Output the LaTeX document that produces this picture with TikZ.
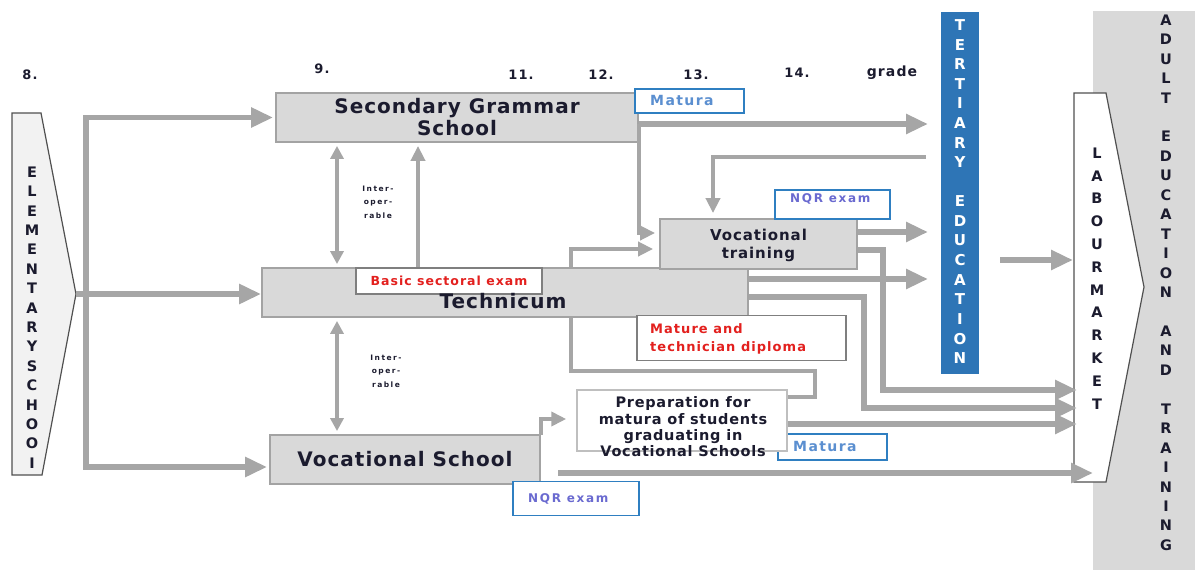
\documentclass[tikz,border=0pt]{standalone}
\usepackage{fontspec}
\setmainfont{DejaVu Sans}
\usetikzlibrary{arrows.meta}
\definecolor{arr}{HTML}{A6A6A6}
\definecolor{boxfill}{HTML}{D9D9D9}
\definecolor{boxline}{HTML}{A3A3A3}
\definecolor{tblue}{HTML}{2E75B6}
\definecolor{mblue}{HTML}{2F7FC1}
\definecolor{ltxt}{HTML}{5B8FD0}
\definecolor{qtxt}{HTML}{6A6AD0}
\definecolor{rtxt}{HTML}{E3201E}
\definecolor{adultfill}{HTML}{D9D9D9}
\definecolor{elemfill}{HTML}{F2F2F2}
\definecolor{shapeline}{HTML}{505050}
\definecolor{noteline}{HTML}{7F7F7F}
\definecolor{prepline}{HTML}{BFBFBF}
\definecolor{darktxt}{HTML}{1B1B2E}
\tikzset{
  bigarr/.style={draw=arr, line width=5.5pt, -{Triangle[length=22pt,width=19pt]}},
  midarr/.style={draw=arr, line width=4pt, -{Triangle[length=15pt,width=14pt]}},
  plainline/.style={draw=arr, line width=4pt},
  dblarr/.style={draw=arr, line width=3.5pt, {Triangle[length=13pt,width=13pt]}-{Triangle[length=13pt,width=13pt]}},
  graybox/.style={draw=boxline, fill=boxfill, line width=1.8pt, inner sep=0pt},
  bluebox/.style={draw=mblue, fill=white, line width=1.8pt, inner sep=0pt},
  notebox/.style={draw=noteline, fill=white, line width=1.5pt, inner sep=0pt},
  prepbox/.style={draw=prepline, fill=white, line width=1.5pt, inner sep=0pt},
  bigtxt/.style={font=\bfseries\fontsize{20}{22}\selectfont\addfontfeatures{LetterSpace=5}, text=darktxt, align=center},
  midtxt/.style={font=\bfseries\fontsize{15}{18}\selectfont\addfontfeatures{LetterSpace=6}, text=darktxt, align=center},
  preptxt/.style={font=\bfseries\fontsize{14.5}{16.3}\selectfont\addfontfeatures{LetterSpace=5}, text=darktxt, align=center, inner sep=0pt},
  redtxt/.style={font=\bfseries\fontsize{12.5}{18}\selectfont\addfontfeatures{LetterSpace=8}, text=rtxt, inner sep=0pt},
  bluetxt/.style={font=\bfseries\fontsize{14}{16}\selectfont\addfontfeatures{LetterSpace=10}, text=ltxt, inner sep=0pt, anchor=west},
  nqrtxt/.style={font=\bfseries\fontsize{12}{14}\selectfont\addfontfeatures{LetterSpace=14}, text=qtxt, inner sep=0pt, anchor=west},
  gradetxt/.style={font=\bfseries\fontsize{13}{15}\selectfont\addfontfeatures{LetterSpace=8}, text=darktxt, inner sep=0pt},
  tinytxt/.style={font=\bfseries\fontsize{7.5}{13.5}\selectfont\addfontfeatures{LetterSpace=20}, text=darktxt, align=center, inner sep=0pt},
  vlet/.style={font=\bfseries\fontsize{14.5}{16}\selectfont, text=darktxt, inner sep=0pt},
  wlet/.style={font=\bfseries\fontsize{15}{16}\selectfont, text=white, inner sep=0pt},
}
\begin{document}
\begin{tikzpicture}[x=1pt,y=-1pt]
\useasboundingbox (0,0) rectangle (1195,570);

% background bands
\node[fill=adultfill, minimum width=104pt, minimum height=562pt, inner sep=0pt] (adult) at (1145,292) {};
\node[fill=tblue, minimum width=38pt, minimum height=362pt, inner sep=0pt] (tert) at (960,193) {};

% elementary school shape
\draw[fill=elemfill, draw=shapeline, line width=1.2pt] (12,113) -- (41,113) -- (76,294) -- (42,475) -- (12,475) -- cycle;
% labour market shape
\draw[fill=white, draw=shapeline, line width=1.2pt] (1074,93) -- (1106,93) -- (1144,287) -- (1106,482) -- (1074,482) -- cycle;

% boxes
\node[graybox, minimum width=362pt, minimum height=49pt] (sgs) at (457,117.5) {};
\node[graybox, minimum width=486pt, minimum height=49pt] (tech) at (505,292.5) {};
\node[graybox, minimum width=270pt, minimum height=49pt] (vs) at (405,459.5) {};
\node[graybox, minimum width=197pt, minimum height=50pt] (vt) at (758.5,244) {};
\node[bluebox, minimum width=109pt, minimum height=26pt] (mat2) at (832.5,447) {};
\node[prepbox, minimum width=210pt, minimum height=61pt] (prep) at (682,420.5) {};
\node[notebox, minimum width=186pt, minimum height=26pt] (bse) at (449,281) {};
\node[notebox, minimum width=209pt, minimum height=45pt] (mtd) at (741.5,338) {};
\node[bluebox, minimum width=109pt, minimum height=24pt] (mat1) at (689.5,101) {};
\node[bluebox, minimum width=115pt, minimum height=29pt] (nqr1) at (832.5,204.5) {};
\node[bluebox, minimum width=126pt, minimum height=34pt] (nqr2) at (576,498.5) {};

% connectors from elementary school
\coordinate (elt) at (76,294);
\coordinate (vb) at (86,294);
\draw[bigarr] (elt) -- (elt -| tech.west);
\draw[bigarr, shorten >=2pt] (vb) |- (sgs.west);
\draw[bigarr, shorten >=2pt] (vb) |- ([yshift=-7.5pt]vs.west);

% inter-operable arrows
\coordinate (d1) at ([xshift=-120pt]sgs.south);
\draw[dblarr, shorten <=3pt, shorten >=3pt] (d1) -- (d1 |- tech.north);
\coordinate (u1) at ([xshift=-39pt]sgs.south);
\draw[midarr, shorten >=3pt] (u1 |- tech.north) -- (u1);
\coordinate (d2) at ([xshift=-168pt]tech.south);
\draw[dblarr, shorten <=3pt, shorten >=3pt] (d2) -- (d2 |- vs.north);

% towards tertiary education
\coordinate (tin) at (928,0);
\coordinate (s1) at ([yshift=-6.5pt]sgs.east);
\draw[bigarr] (s1) -- (s1 -| tin);
\draw[midarr, shorten >=4pt] (s1) |- ([yshift=11pt]vt.west);
\coordinate (tb) at (926,157);
\coordinate (vtn) at ([xshift=-45.5pt]vt.north);
\draw[midarr, shorten >=5pt] (tb) -| (vtn);
\coordinate (t1) at ([xshift=66pt]tech.north);
\draw[midarr, shorten >=6pt] (t1) |- ([yshift=-5pt]vt.west);
\coordinate (v1) at ([yshift=12pt]vt.east);
\draw[bigarr] (v1) -- (v1 -| tin);
\coordinate (c1) at ([yshift=13.5pt]tech.east);
\draw[bigarr] (c1) -- (c1 -| tin);

% towards labour market
\coordinate (lm0) at (1073,260);
\coordinate (t0) at (1000,260);
\draw[bigarr] (t0) -- (lm0);
\coordinate (v2) at ([yshift=-6pt]vt.east);
\coordinate (lm1) at (1077,390);
\draw[bigarr] (v2) -- ++(25,0) |- (lm1);
\coordinate (c2) at ([yshift=-4.5pt]tech.east);
\coordinate (lm2) at (1077,408);
\draw[bigarr] (c2) -- ++(115,0) |- (lm2);
\coordinate (t2) at ([xshift=66pt]tech.south);
\draw[plainline] (t2) -- ++(0,53) -- ++(244,0) |- ([yshift=23.5pt]prep.east);
\coordinate (p1) at ([yshift=-3.5pt]prep.east);
\coordinate (lm3) at (1077,424);
\draw[bigarr] (p1) -- (lm3);
\draw[midarr, shorten >=10pt] ([yshift=-1pt]vs.north east) |- ([yshift=1.5pt]prep.west);
\coordinate (b0) at (558,473);
\coordinate (lm4) at (1093,473);
\draw[bigarr] (b0) -- (lm4);

% box texts
\node[bigtxt] (sgsl) at (sgs.center) {Secondary Grammar\\School};
\node[bigtxt] (techl) at (503,301.5) {Technicum};
\node[bigtxt] (vsl) at (vs.center) {Vocational School};
\node[midtxt] (vtl) at (758.5,245) {Vocational\\training};
\node[preptxt] (prepl) at (683,427) {Preparation for\\matura of students\\graduating in\\Vocational Schools};
\node[redtxt] (bsel) at (449,281) {Basic sectoral exam};
\node[redtxt, align=left, anchor=west, font=\bfseries\fontsize{13}{18}\selectfont\addfontfeatures{LetterSpace=8}] (mtdl) at (650,339) {Mature and\\technician diploma};
\node[bluetxt] (mat1l) at (650,100.5) {Matura};
\node[bluetxt] (mat2l) at (793,446) {Matura};
\node[nqrtxt] (nqr1l) at (790,199) {NQR exam};
\node[nqrtxt] (nqr2l) at (528,499) {NQR exam};
\node[tinytxt] (io1) at (378,202) {Inter-\\oper-\\rable};
\node[tinytxt] (io2) at (386,371) {Inter-\\oper-\\rable};

% grade labels
\node[gradetxt] (g8) at (30,75) {8.};
\node[gradetxt] (g9) at (322,69) {9.};
\node[gradetxt] (g11) at (521,75) {11.};
\node[gradetxt] (g12) at (601,75) {12.};
\node[gradetxt] (g13) at (696,75) {13.};
\node[gradetxt] (g14) at (797,73) {14.};
\node[gradetxt, font=\bfseries\fontsize{14}{16}\selectfont\addfontfeatures{LetterSpace=8}] (ggr) at (892,73) {grade};

% vertical lettering
\foreach \c [count=\i from 0] in {E,L,E,M,E,N,T,A,R,Y,S,C,H,O,O,I}
  \node[vlet] (el\i) at (32,172+19.4*\i) {\c};
\foreach \c [count=\i from 0] in {L,A,B,O,U,R,M,A,R,K,E,T}
  \node[vlet] (lb\i) at (1097,153+22.8*\i) {\c};
\foreach \c [count=\i from 0] in {T,E,R,T,I,A,R,Y}
  \node[wlet] (ta\i) at (960,25+19.6*\i) {\c};
\foreach \c [count=\i from 0] in {E,D,U,C,A,T,I,O,N}
  \node[wlet] (tb\i) at (960,201.4+19.6*\i) {\c};
\foreach \c [count=\i from 0] in {A,D,U,L,T}
  \node[vlet] (aa\i) at (1166,20+19.45*\i) {\c};
\foreach \c [count=\i from 0] in {E,D,U,C,A,T,I,O,N}
  \node[vlet] (ab\i) at (1166,136.7+19.45*\i) {\c};
\foreach \c [count=\i from 0] in {A,N,D}
  \node[vlet] (ac\i) at (1166,331.2+19.45*\i) {\c};
\foreach \c [count=\i from 0] in {T,R,A,I,N,I,N,G}
  \node[vlet] (ad\i) at (1166,409+19.45*\i) {\c};
\end{tikzpicture}
\end{document}
